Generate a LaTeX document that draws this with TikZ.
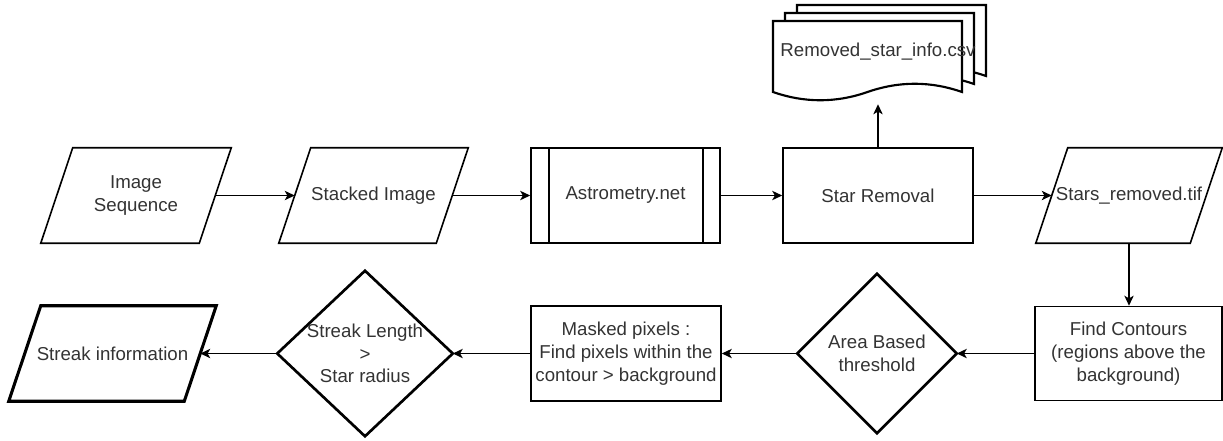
\documentclass[tikz,border=0pt]{standalone}
\usepackage{fontspec}
\setmainfont{Liberation Sans}
\usetikzlibrary{arrows.meta}
\definecolor{txtgray}{HTML}{333333}

\tikzset{
  every node/.style={font=\fontsize{14}{17}\selectfont, text=txtgray, align=center, inner sep=0pt},
  flow/.style={-{Stealth[length=7.5pt,width=7pt,inset=2pt]}, line width=1.1pt},
  procbox/.style={draw, line width=1.2pt, minimum width=142.5pt, minimum height=71.25pt},
  subproc/.style={procbox, append after command={\pgfextra{
      \draw[line width=1.2pt] ([xshift=14.25pt]\tikzlastnode.north west) -- ([xshift=14.25pt]\tikzlastnode.south west)
        ([xshift=-13.5pt]\tikzlastnode.north east) -- ([xshift=-13.5pt]\tikzlastnode.south east);}}},
  datain/.style={minimum height=71.25pt, append after command={\pgfextra{
      \draw[line width=#1] ([xshift=12pt]\tikzlastnode.north west) -- ([xshift=12pt]\tikzlastnode.north east)
        -- ([xshift=-12pt]\tikzlastnode.south east) -- ([xshift=-12pt]\tikzlastnode.south west) -- cycle;}}},
  datain/.default=1.2pt,
  decision/.style={append after command={\pgfextra{
      \draw[line width=2pt] (\tikzlastnode.north) -- (\tikzlastnode.east) -- (\tikzlastnode.south)
        -- (\tikzlastnode.west) -- cycle;}}},
  docline/.style={line width=1.6pt, fill=white}
}

\begin{document}
\begin{tikzpicture}[x=0.75pt, y=-0.75pt]
    \useasboundingbox (0,0) rectangle (1223,440);

    \node[datain, minimum width=118.5pt] (imgseq) at (136,195.5) {Image\\Sequence};
    \node[datain, minimum width=117.75pt] (stacked) at (373.5,195.5) {Stacked Image};
    \node[subproc, minimum width=141.75pt] (astro) at (625.5,195.5) {Astrometry.net};
    \node[procbox] (starrem) at (878,195.5) {Star Removal};
    \node[datain, minimum width=115.5pt] (starsrm) at (1129,195.5) {Stars\_removed.tif};

    \foreach \k in {2,1,0}
        \draw[docline, shift={(12*\k,-8*\k)}] (773,92) -- (773,21) -- (962,21) -- (962,92)
            .. controls (930.5,81) and (899,81) .. (867.5,92)
            .. controls (836,103) and (804.5,103) .. (773,92) -- cycle;
    \node[minimum width=159.75pt, minimum height=78pt] (csv) at (878,52) {Removed\_star\_info.csv};

    \node[procbox, minimum width=140.25pt, minimum height=70.5pt] (findc) at (1128.5,353.5) {Find Contours\\(regions above the\\background)};
    \node[decision, minimum width=119.25pt, minimum height=119.25pt] (areath) at (877,353.5) {Area Based\\threshold};
    \node[procbox] (masked) at (626,353.5) {Masked pixels :\\Find pixels within the\\contour > background};
    \node[decision, minimum width=131.25pt, minimum height=123.75pt] (streak) at (365,353.5) {Streak Length\\>\\Star radius};
    \node[datain=2.3pt, minimum width=131.25pt] (info) at (112.5,353.5) {Streak information};

    \draw[flow] (imgseq.east) -- (stacked.west);
    \draw[flow] (stacked.east) -- (astro.west);
    \draw[flow] (astro.east) -- (starrem.west);
    \draw[flow] (starrem.north) -- (starrem.north |- csv.south);
    \draw[flow] (starrem.east) -- (starsrm.west);
    \draw[flow] (starsrm.south) -- (starsrm.south |- findc.north);
    \draw[flow] (findc.west) -- (areath.east);
    \draw[flow] (areath.west) -- (masked.east);
    \draw[flow] (masked.west) -- (streak.east);
    \draw[flow] (streak.west) -- (info.east);
\end{tikzpicture}
\end{document}
